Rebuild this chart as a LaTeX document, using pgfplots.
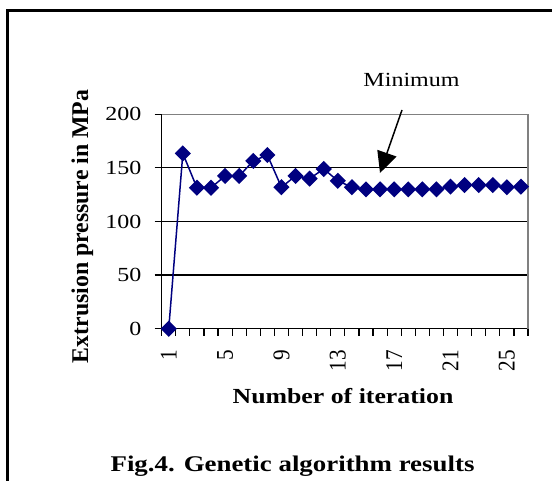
\documentclass[border=0pt]{standalone}
\usepackage{pgfplots}
\pgfplotsset{compat=1.18}
\usepackage{fontspec}
\usepackage{graphicx}
\usetikzlibrary{arrows.meta}
\setmainfont{Liberation Serif}[FakeStretch=1.2]
\newfontfamily\plainrm{Liberation Serif}
\definecolor{navyc}{RGB}{0,0,128}
\definecolor{bordergray}{RGB}{128,128,128}
\newcommand{\rotlab}[1]{\scalebox{1.06}[1.2]{\plainrm\fontsize{20}{24}\selectfont #1}}
\begin{document}
\begin{tikzpicture}
\useasboundingbox (0pt,0pt) rectangle (552pt,-481pt);
% outer frame
\draw[line width=2.6pt] (7.6pt,-700pt) -- (7.6pt,-10.6pt) -- (800pt,-10.6pt);
\begin{axis}[
  at={(161.7pt,-328.7pt)}, anchor=south west,
  scale only axis, width=366.3pt, height=214.4pt,
  xmin=0.5, xmax=26.5, ymin=0, ymax=200,
  axis x line*=bottom, axis y line*=left,
  axis line style={-, line width=1.4pt, black},
  clip=false,
  xtick={0.5,1.5,...,26.5},
  xticklabels={},
  extra x ticks={1,5,9,13,17,21,25},
  extra x tick labels={\rotlab{1},\rotlab{5},\rotlab{9},\rotlab{13},\rotlab{17},\rotlab{21},\rotlab{25}},
  extra x tick style={major tick length=0pt, xticklabel style={rotate=90, anchor=east, inner sep=0pt, xshift=-21pt}},
  ytick={0,50,100,150,200},
  tick align=outside,
  major tick length=7pt,
  tick style={line width=1.2pt, black},
  ymajorgrids,
  major grid style={line width=1.2pt, black},
  /pgf/number format/assume math mode=true,
  yticklabel style={font=\fontsize{20}{24}\selectfont, anchor=east, inner sep=0pt, xshift=-13pt},
]
\addplot[navyc, line width=1.5pt, mark=square*, mark size=4.95pt, mark options={rotate=45, fill=navyc, draw=navyc}] coordinates {
(1,0) (2,163.5) (3,131.5) (4,131.5) (5,142.5) (6,142.5) (7,156.5) (8,162)
(9,132) (10,142.5) (11,140) (12,149) (13,138) (14,132) (15,130) (16,130)
(17,130) (18,130) (19,130) (20,130) (21,132.5) (22,134) (23,134) (24,134)
(25,132) (26,132.5)
};
\draw[bordergray, line width=1.4pt] (rel axis cs:0,1) -- (rel axis cs:1,1) -- (rel axis cs:1,0);
\end{axis}
% y label
\node[rotate=90, anchor=base, inner sep=0pt] at (88pt,-226.5pt)
  {\scalebox{1.19}[1.2]{\plainrm\fontsize{20}{24}\selectfont\bfseries Extrusion pressure in MPa}};
% x label
\node[anchor=base, inner sep=0pt] at (343pt,-403.3pt)
  {\fontsize{21.5}{26}\selectfont\bfseries Number of iteration};
% caption
\node[anchor=base, inner sep=0pt] at (292.5pt,-471.7pt)
  {\fontsize{22.4}{27}\selectfont\bfseries Fig.4. Genetic algorithm results};
% annotation
\node[anchor=base, inner sep=0pt] at (411.5pt,-86.7pt)
  {\fontsize{20}{24}\selectfont Minimum};
\draw[line width=1.5pt, -{Triangle[length=21pt, width=20pt]}] (402pt,-110pt) -- (380pt,-173pt);
\end{tikzpicture}
\end{document}
